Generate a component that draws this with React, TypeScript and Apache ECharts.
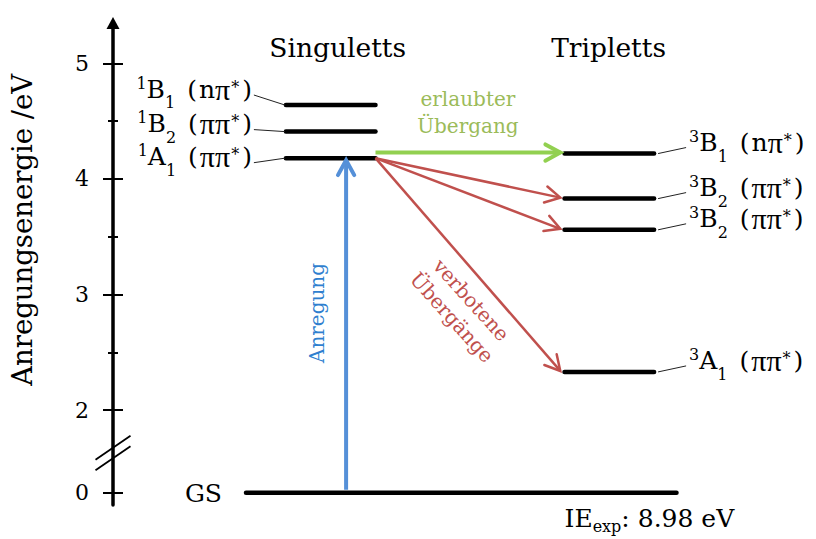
import React, { useEffect, useRef } from "react";
import * as echarts from "echarts";

// ---------------- data ----------------
const axisTitle = "Anregungsenergie /eV";
const columnTitles = ["Singuletts", "Tripletts"];
const majorTickEnergies = [0, 2, 3, 4, 5];
const minorTickEnergies = [2.5, 3.5, 4.5];

const singletMultiplicity = "1";
const singletSymmetries = ["B", "B", "A"];
const singletSubscripts = ["1", "2", "1"];
const singletCharacters = ["nπ", "ππ", "ππ"];
const singletEnergies = [4.64, 4.41, 4.18];

const tripletMultiplicity = "3";
const tripletSymmetries = ["B", "B", "B", "A"];
const tripletSubscripts = ["1", "2", "2", "1"];
const tripletCharacters = ["nπ", "ππ", "ππ", "ππ"];
const tripletEnergies = [4.22, 3.83, 3.56, 2.33];

const groundStateLabel = "GS";
const groundStateEnergy = 0;
const ionizationEnergy = 8.98;

const excitedSinglet = 2; // index of 1A1
const allowedTriplets = [0];
const forbiddenTriplets = [1, 2, 3];
const annotationTexts = {
  excitation: "Anregung",
  allowed: "erlaubter\nÜbergang",
  forbidden: "verbotene\nÜbergänge",
};

// ---------------- axis break ----------------
const BREAK_FROM = 2;
const BREAK_SHIFT = 1.285;
const toAxis = (e: number) => (e < BREAK_FROM ? e + BREAK_SHIFT : e);
const fromAxis = (v: number) => (v < BREAK_FROM - 0.01 ? v - BREAK_SHIFT : v);

// ---------------- layout ----------------
const SERIF = "'DejaVu Serif', serif";
const PI_FONT = "'Liberation Serif', serif";
const Y_MIN = 1.178;
const Y_MAX = 5.35;
const SINGLET_X = [24.7, 37.5];
const TRIPLET_X = [64.5, 77.3];
const GROUND_X = [19.0, 80.5];
const EXCITATION_X = 33.3;
const TITLE_X = [32.1, 70.8];
const TITLE_AXIS_Y = 5.14;
const AXIS_TITLE_AXIS_Y = 3.56;
const BREAK_MARK_AXIS_Y = 1.628;
const ALLOWED_TEXT = [50.7, 4.574];
const FORBIDDEN_TEXT = [49.8, 2.878];
const EXCITATION_TEXT_E = 2.84;
const ARROW_GAP = 0.6;
const singletLabelLift = [16, 8, 1.5];
const tripletLabelLift = 11;

const BLACK = "#000000";
const GREEN_ARROW = "#92D050";
const GREEN_TEXT = "#9BBB59";
const RED = "#C0504D";
const BLUE_ARROW = "#5590D8";
const BLUE_TEXT = "#2F7FCF";

const labelRich = {
  m: { fontFamily: SERIF, fontSize: 25, lineHeight: 30, fill: BLACK },
  pi: { fontFamily: PI_FONT, fontSize: 30, lineHeight: 30, fill: BLACK },
  open: { fontFamily: SERIF, fontSize: 25, lineHeight: 30, fill: BLACK, padding: [0, 2, 0, 12] },
  sup: { fontFamily: SERIF, fontSize: 16, lineHeight: 16, fill: BLACK, padding: [0, 0, 12, 0] },
  sub: { fontFamily: SERIF, fontSize: 16, lineHeight: 16, fill: BLACK, padding: [27, 0, 0, 0] },
  star: { fontFamily: SERIF, fontSize: 16, lineHeight: 16, fill: BLACK, padding: [0, 3, 4, 1] },
  ie: { fontFamily: SERIF, fontSize: 16, lineHeight: 16, fill: BLACK, padding: [16, 0, 0, 0] },
};

const characterTokens = (ch: string) =>
  ch
    .split("")
    .map((c) => (c === "π" ? `{pi|π}` : `{m|${c}}`))
    .join("");

const stateLabel = (mult: string, sym: string, sub: string, ch: string) =>
  `{sup|${mult}}{m|${sym}}{sub|${sub}}{open|(}${characterTokens(ch)}{star|*}{m|)}`;

function arrow(x1: number, y1: number, x2: number, y2: number, color: string, width: number) {
  const ang = Math.atan2(y2 - y1, x2 - x1);
  const L = 17;
  const A = 0.5;
  const p1 = [x2 - L * Math.cos(ang - A), y2 - L * Math.sin(ang - A)];
  const p2 = [x2 - L * Math.cos(ang + A), y2 - L * Math.sin(ang + A)];
  return [
    { type: "line", shape: { x1, y1, x2, y2 }, style: { stroke: color, lineWidth: width, fill: "none" } },
    {
      type: "polyline",
      shape: { points: [p1, [x2, y2], p2] },
      style: { stroke: color, lineWidth: width, fill: "none", lineJoin: "miter", lineCap: "round" },
    },
  ];
}

function renderDiagram(params: any, api: any) {
  if (params.dataIndex !== 0) return null;
  const P = (x: number, e: number) => api.coord([x, toAxis(e)]);
  const A = (x: number, v: number) => api.coord([x, v]);
  const children: any[] = [];
  const levelStyle = { stroke: BLACK, lineWidth: 4.5, lineCap: "round", fill: "none" };
  const leaderStyle = { stroke: "#222", lineWidth: 1, fill: "none" };

  // ground state
  const g0 = P(GROUND_X[0], groundStateEnergy);
  const g1 = P(GROUND_X[1], groundStateEnergy);
  children.push({ type: "line", shape: { x1: g0[0], y1: g0[1], x2: g1[0], y2: g1[1] }, style: levelStyle });
  children.push({
    type: "text", x: g0[0] - 24, y: g0[1] + 1,
    style: { text: groundStateLabel, fill: BLACK, fontFamily: SERIF, fontSize: 25, align: "right", verticalAlign: "middle" },
  });

  // singlets
  singletEnergies.forEach((e, i) => {
    const a = P(SINGLET_X[0], e);
    const b = P(SINGLET_X[1], e);
    children.push({ type: "line", shape: { x1: a[0], y1: a[1], x2: b[0], y2: b[1] }, style: levelStyle });
    const lx = a[0] - 34;
    const ly = a[1] - singletLabelLift[i];
    children.push({
      type: "text", x: lx, y: ly,
      style: {
        text: stateLabel(singletMultiplicity, singletSymmetries[i], singletSubscripts[i], singletCharacters[i]),
        rich: labelRich, align: "right", verticalAlign: "middle", fill: BLACK,
      },
    });
    children.push({ type: "line", shape: { x1: lx + 2, y1: ly + 6, x2: a[0] - 1, y2: a[1] }, style: leaderStyle });
  });

  // triplets
  tripletEnergies.forEach((e, i) => {
    const a = P(TRIPLET_X[0], e);
    const b = P(TRIPLET_X[1], e);
    children.push({ type: "line", shape: { x1: a[0], y1: a[1], x2: b[0], y2: b[1] }, style: levelStyle });
    const lx = b[0] + 35;
    const ly = b[1] - tripletLabelLift;
    children.push({
      type: "text", x: lx, y: ly,
      style: {
        text: stateLabel(tripletMultiplicity, tripletSymmetries[i], tripletSubscripts[i], tripletCharacters[i]),
        rich: labelRich, align: "left", verticalAlign: "middle", fill: BLACK,
      },
    });
    children.push({ type: "line", shape: { x1: b[0] + 4, y1: b[1], x2: lx - 3, y2: ly + 5 }, style: leaderStyle });
  });

  // transitions
  const src = P(SINGLET_X[1], singletEnergies[excitedSinglet]);
  allowedTriplets.forEach((t) => {
    const s = P(SINGLET_X[1], tripletEnergies[t]);
    const d = P(TRIPLET_X[0] - ARROW_GAP, tripletEnergies[t]);
    children.push(...arrow(s[0], s[1] - 1, d[0], d[1] - 1, GREEN_ARROW, 4));
  });
  forbiddenTriplets.forEach((t) => {
    const d = P(TRIPLET_X[0] - ARROW_GAP, tripletEnergies[t]);
    children.push(...arrow(src[0], src[1], d[0], d[1] - 1, RED, 2.5));
  });
  const ex0 = P(EXCITATION_X, groundStateEnergy);
  const ex1 = P(EXCITATION_X, singletEnergies[excitedSinglet]);
  children.push(...arrow(ex0[0], ex0[1] - 3, ex1[0], ex1[1] + 2, BLUE_ARROW, 4));

  // annotations
  const at = P(ALLOWED_TEXT[0], ALLOWED_TEXT[1]);
  children.push({
    type: "text", x: at[0], y: at[1],
    style: { text: annotationTexts.allowed, fill: GREEN_TEXT, fontFamily: SERIF, fontSize: 20, lineHeight: 26.6, align: "center", verticalAlign: "middle" },
  });
  const ft = P(FORBIDDEN_TEXT[0], FORBIDDEN_TEXT[1]);
  children.push({
    type: "text", x: ft[0], y: ft[1], rotation: (-48 * Math.PI) / 180,
    style: { text: annotationTexts.forbidden, fill: RED, fontFamily: SERIF, fontSize: 20, lineHeight: 26, align: "center", verticalAlign: "middle" },
  });
  const et = P(EXCITATION_X, EXCITATION_TEXT_E);
  children.push({
    type: "text", x: et[0] - 29, y: et[1], rotation: Math.PI / 2,
    style: { text: annotationTexts.excitation, fill: BLUE_TEXT, fontFamily: SERIF, fontSize: 20, align: "center", verticalAlign: "middle" },
  });

  // ionization energy
  const ie = P(TRIPLET_X[0], groundStateEnergy);
  children.push({
    type: "text", x: ie[0], y: ie[1] + 26,
    style: {
      text: `{m|IE}{ie|exp}{m|: ${ionizationEnergy.toFixed(2)} eV}`,
      rich: labelRich, align: "left", verticalAlign: "middle", fill: BLACK,
    },
  });

  // column titles
  columnTitles.forEach((t, i) => {
    const p = A(TITLE_X[i], TITLE_AXIS_Y);
    children.push({
      type: "text", x: p[0], y: p[1],
      style: { text: t, fill: BLACK, fontFamily: SERIF, fontSize: 26.5, align: "center", verticalAlign: "middle" },
    });
  });

  // axis title
  const axT = A(0, AXIS_TITLE_AXIS_Y);
  children.push({
    type: "text", x: axT[0] - 91, y: axT[1], rotation: Math.PI / 2,
    style: { text: axisTitle, fill: BLACK, fontFamily: SERIF, fontSize: 27.5, align: "center", verticalAlign: "middle" },
  });

  // axis break marks
  const bm = A(0, BREAK_MARK_AXIS_Y);
  [-5.25, 5.25].forEach((dy) => {
    children.push({
      type: "line",
      shape: { x1: bm[0] - 17.5, y1: bm[1] + dy + 12, x2: bm[0] + 17.5, y2: bm[1] + dy - 12 },
      style: { stroke: BLACK, lineWidth: 1.8, fill: "none" },
    });
  });

  return { type: "group", children };
}

const majorTicks = majorTickEnergies.map(toAxis);
const minorTicks = minorTickEnergies.map(toAxis);

const hiddenY = {
  type: "value",
  position: "left",
  offset: 0,
  min: Y_MIN,
  max: Y_MAX,
  splitLine: { show: false },
  axisLine: { show: false, onZero: false },
  axisLabel: { show: false },
};

const option: any = {
  animation: false,
  backgroundColor: "#ffffff",
  textStyle: { fontFamily: SERIF },
  grid: { left: 113, right: 3, top: 23, bottom: 34 },
  xAxis: { type: "value", min: 0, max: 100, show: false },
  yAxis: [
    {
      type: "value",
      position: "left",
      offset: 0,
      min: Y_MIN,
      max: Y_MAX,
      splitLine: { show: false },
      axisLine: {
        show: true,
        onZero: false,
        symbol: ["none", "triangle"],
        symbolSize: [13, 12],
        lineStyle: { color: BLACK, width: 3.5 },
      },
      axisTick: { show: true, customValues: majorTicks, length: 10, lineStyle: { color: BLACK, width: 2 } },
      axisLabel: {
        show: true,
        customValues: majorTicks,
        formatter: (v: number) => String(Math.round(fromAxis(v))),
        margin: 24,
        fontSize: 22,
        fontFamily: SERIF,
        color: BLACK,
      },
    },
    { ...hiddenY, axisTick: { show: true, inside: true, customValues: majorTicks, length: 10, lineStyle: { color: BLACK, width: 2 } } },
    { ...hiddenY, axisTick: { show: true, customValues: minorTicks, length: 5, lineStyle: { color: BLACK, width: 2 } } },
    { ...hiddenY, axisTick: { show: true, inside: true, customValues: minorTicks, length: 5, lineStyle: { color: BLACK, width: 2 } } },
  ],
  series: [
    {
      type: "custom",
      coordinateSystem: "cartesian2d",
      xAxisIndex: 0,
      yAxisIndex: 0,
      clip: false,
      silent: true,
      data: [[0, toAxis(groundStateEnergy)]],
      renderItem: renderDiagram,
    },
  ],
};

export default function App() {
  const ref = useRef<HTMLDivElement>(null);
  useEffect(() => {
    const chart = echarts.init(ref.current as HTMLDivElement, null, { renderer: "svg" });
    chart.setOption(option);
    return () => chart.dispose();
  }, []);
  return (
    <div
      ref={ref}
      style={{ position: "absolute", left: 0, top: 0, width: 816, height: 539, background: "#ffffff" }}
    />
  );
}
